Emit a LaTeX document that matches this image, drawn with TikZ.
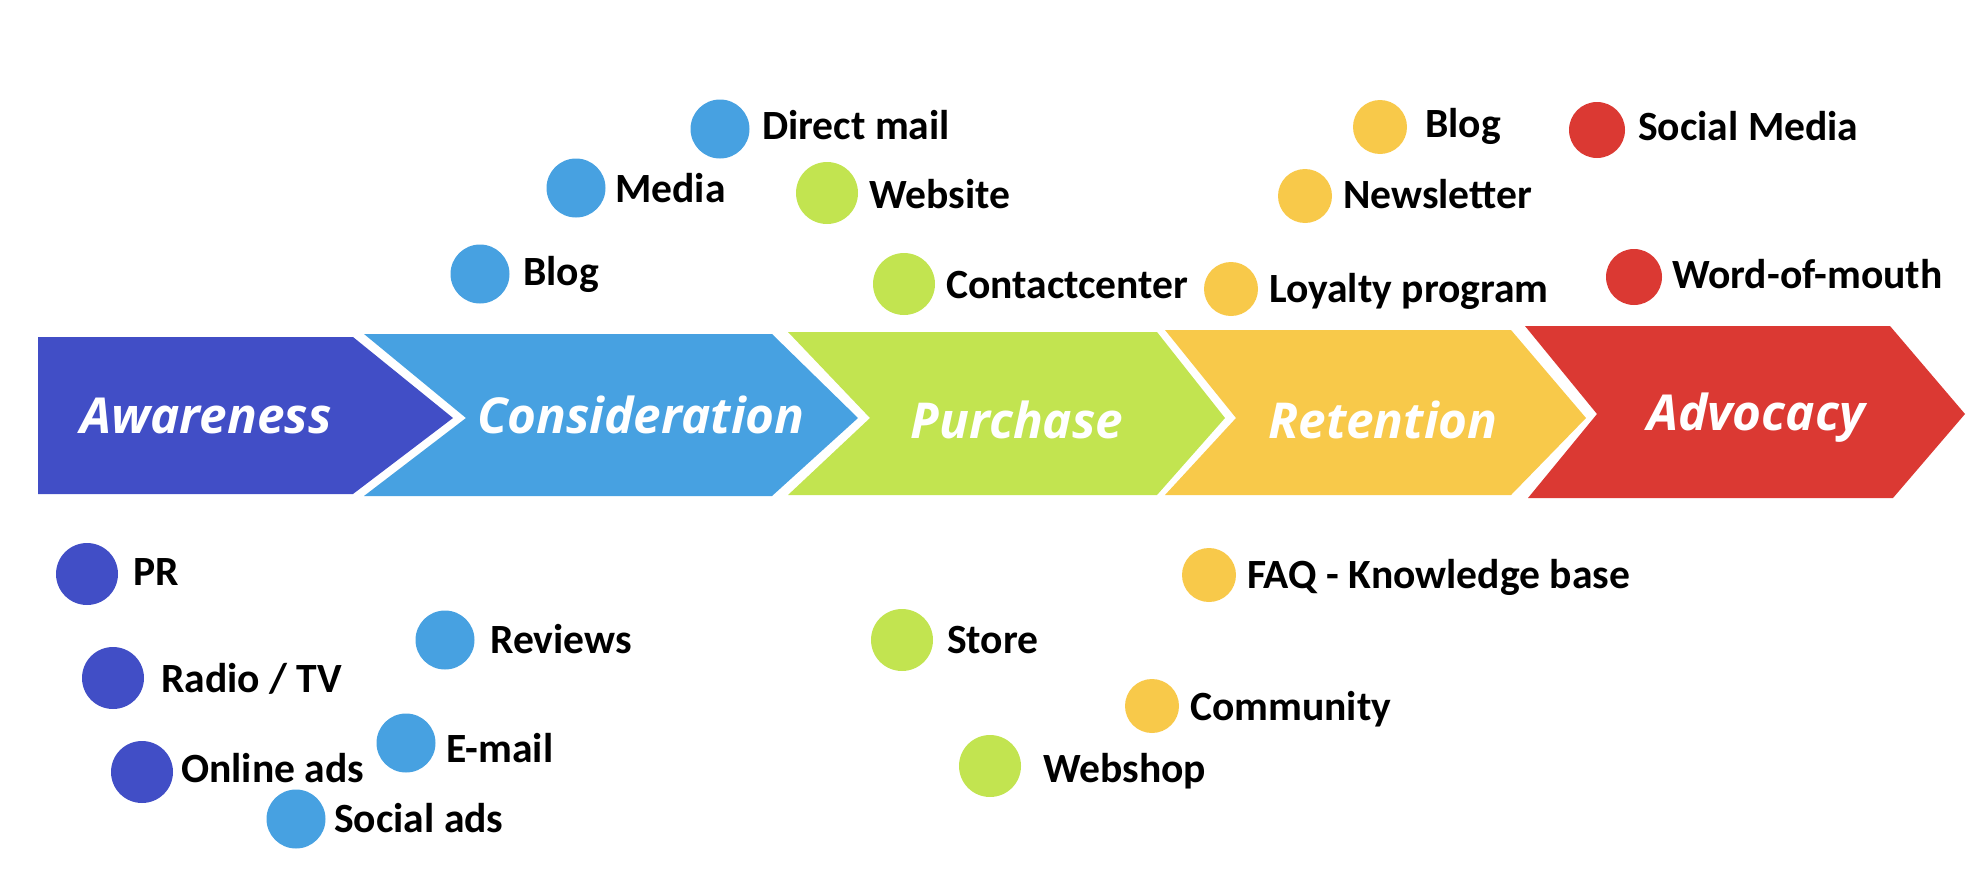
\documentclass[tikz,border=0pt]{standalone}
\usepackage{fontspec}
\setmainfont{Carlito}
\newfontfamily\headfont{Open Sans}
\definecolor{cAw}{RGB}{65,78,198}
\definecolor{cCo}{RGB}{71,161,225}
\definecolor{cPu}{RGB}{194,228,80}
\definecolor{cRe}{RGB}{248,201,74}
\definecolor{cAd}{RGB}{219,57,51}
\tikzset{
  dot/.style={circle, inner sep=0pt},
  awdot/.style={fill=cAw, minimum size=62pt},
  codot/.style={fill=cCo, minimum size=59pt},
  pudot/.style={fill=cPu, minimum size=62pt},
  redot/.style={fill=cRe, minimum size=54pt},
  addot/.style={fill=cAd, minimum size=56pt},
  item/.style={anchor=base west, inner sep=0pt, font=\fontsize{41.6}{42}\selectfont\bfseries},
  stage/.style={anchor=base, text=white, inner sep=0pt, font=\fontsize{49.5}{50}\selectfont\headfont\bfseries\itshape},
}
\newcommand\chanitem[7]{%
  \node[dot,#2] (#1d) at (#3,#4) {};
  \node[item] (#1) at (#5,#7) {#6};}
\begin{document}
\begin{tikzpicture}[x=1pt,y=-1pt]
\useasboundingbox (0,0) rectangle (1986,886);
% chevrons
\fill[cAw] (38,337) -- (353,337) -- (453,418) -- (353,494) -- (38,494) -- cycle;
\fill[cCo] (364,334) -- (772,334) -- (858,418) -- (772,496) -- (364,496) -- (466,418) -- cycle;
\fill[cPu] (788,332) -- (1157,332) -- (1225,418) -- (1157,495) -- (788,495) -- (870,418) -- cycle;
\fill[cRe] (1165,330) -- (1511,330) -- (1586,418) -- (1511,495) -- (1165,495) -- (1236,418) -- cycle;
\fill[cAd] (1525,326) -- (1890,326) -- (1965,414) -- (1893,498) -- (1528,498) -- (1597,414) -- cycle;
% stage labels
\node[stage] (aw) at (206,433) {Awareness};
\node[stage] (co) at (641,433) {Consideration};
\node[stage] (pu) at (1017,438) {Purchase};
\node[stage] (re) at (1383,438) {Retention};
\node[stage] (ad) at (1756,430) {Advocacy};
% top items
\chanitem{directmail}{codot}{720}{129}{762}{Direct mail}{139}
\chanitem{media}{codot}{576}{188}{615}{Media}{202}
\chanitem{website}{pudot}{827}{193}{869}{Website}{208}
\chanitem{blogA}{codot}{480}{274}{523}{Blog}{285}
\chanitem{contact}{pudot}{904}{284}{946}{Contactcenter}{298}
\chanitem{blogB}{redot}{1380}{127}{1425}{Blog}{137}
\chanitem{socialmedia}{addot}{1597}{130}{1638}{Social Media}{140}
\chanitem{newsletter}{redot}{1305}{196}{1343}{Newsletter}{208}
\chanitem{loyalty}{redot}{1231}{289}{1269}{Loyalty program}{302}
\chanitem{wom}{addot}{1634}{277}{1672}{Word-of-mouth}{288}
% bottom items
\chanitem{pr}{awdot}{87}{574}{133}{PR}{585}
\chanitem{radio}{awdot}{113}{678}{161}{Radio / TV}{692}
\chanitem{online}{awdot}{142}{772}{181}{Online ads}{782}
\chanitem{socialads}{codot}{296}{819}{334}{Social ads}{832}
\chanitem{reviews}{codot}{445}{640}{490}{Reviews}{653}
\chanitem{email}{codot}{406}{743}{446}{E-mail}{762}
\chanitem{store}{pudot}{902}{640}{947}{Store}{653}
\chanitem{webshop}{pudot}{990}{766}{1043}{Webshop}{782}
\chanitem{faq}{redot}{1209}{575}{1247}{FAQ - Knowledge base}{588}
\chanitem{community}{redot}{1152}{706}{1190}{Community}{720}
\end{tikzpicture}
\end{document}
